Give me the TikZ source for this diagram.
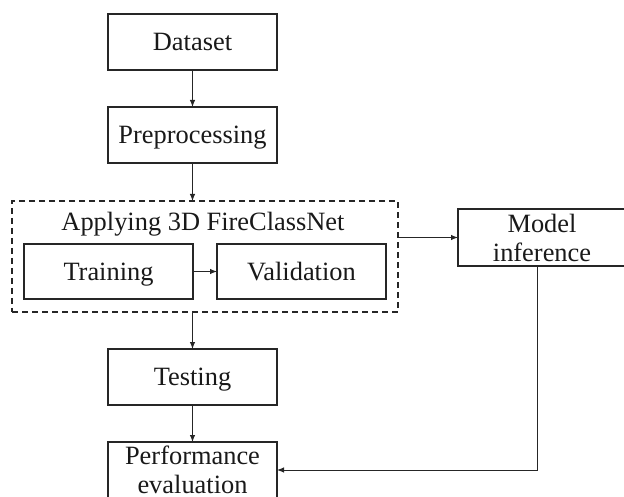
\documentclass[tikz,border=0pt]{standalone}
\usepackage{fontspec}
\setmainfont{Liberation Serif}
\usetikzlibrary{arrows.meta,calc}
\begin{document}
\begin{tikzpicture}[x=1pt,y=-1pt,
  line width=1.2pt,
  every node/.style={inner sep=0pt,outer sep=0pt,font=\fontsize{26.4}{30}\selectfont,text=black!90},
  box/.style={draw=black!85,rectangle,minimum width=169pt,minimum height=56pt,align=center},
  one/.style={text height=17.5pt,text depth=0pt},
  arr/.style={draw=black!85,line width=1pt,-{Latex[length=7pt,width=5.5pt]}},
  dashbox/.style={draw=black!85,rectangle,dash pattern=on 6pt off 4pt}]
\path[use as bounding box,clip] (0,0) rectangle (624,497);
\node[box,one] (dataset) at (192.5,42) {Dataset};
\node[box,one] (prep) at (192.5,135) {Preprocessing};
\node[dashbox,minimum width=386pt,minimum height=111pt] (group) at (205,256.5) {};
\node[one] (title) at (203,221.5) {Applying 3D FireClassNet};
\node[box,one,minimum height=55pt] (train) at (108.5,271.5) {Training};
\node[box,one,minimum height=55pt] (valid) at (301.5,271.5) {Validation};
\node[box,minimum width=168pt,minimum height=57pt] (model) at (542,237.5) {Model\\[-1pt]inference};
\node[box,one] (test) at (192.5,377) {Testing};
\node[box] (perf) at (192.5,470) {Performance\\[-1pt]evaluation};
\draw[arr] (dataset) -- (prep);
\draw[arr] (prep.south) -- (prep.south |- group.north);
\draw[arr] (group.south -| test.north) -- (test);
\draw[arr] (test) -- (perf);
\draw[arr] (train) -- (valid);
\draw[arr] (group.east |- model.west) -- (model.west);
\draw[arr] ([xshift=-5pt]model.south) |- (perf.east);
\end{tikzpicture}
\end{document}
